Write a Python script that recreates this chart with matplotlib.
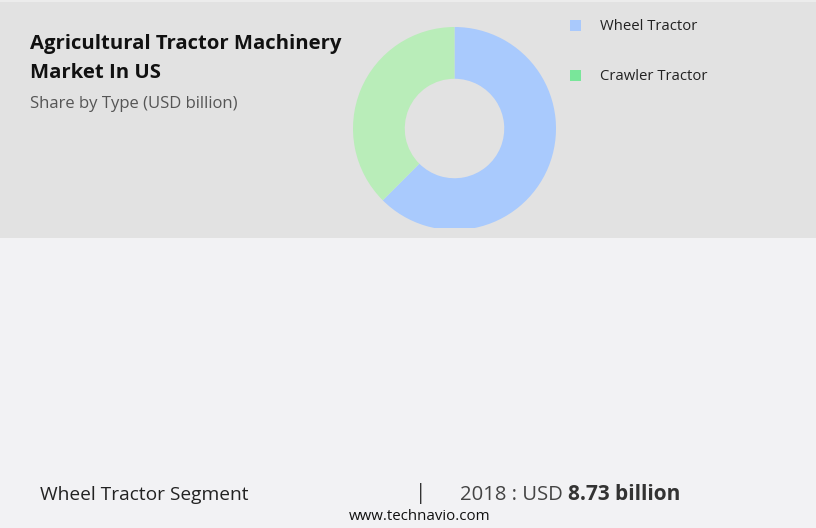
import matplotlib
matplotlib.use("Agg")
import matplotlib.pyplot as plt
from matplotlib.patches import Rectangle

types = ["Wheel Tractor", "Crawler Tractor"]
values = [8.73, 5.24]  # USD billion, read from donut share (~62.5% / 37.5%)
wedge_colors = ["#a9cafd", "#b9edb9"]
legend_colors = ["#a9c9fc", "#79e69a"]
title_lines = ["Agricultural Tractor Machinery", "Market In US"]
subtitle = "Share by Type (USD billion)"
segment = "Wheel Tractor Segment"
year = "2018"
seg_value = "8.73 billion"

W, H = 816, 528
plt.rcParams['font.family'] = ['Open Sans', 'DejaVu Sans']

fig = plt.figure(figsize=(W / 100, H / 100), dpi=100)
fig.patch.set_facecolor("#f2f2f4")

# grey upper band
fig.patches.append(Rectangle((0, 1 - 238 / H), 1, 238 / H, transform=fig.transFigure,
                             facecolor="#e2e2e2", edgecolor="none", zorder=-2))
fig.patches.append(Rectangle((0, 1 - 2 / H), 1, 2 / H, transform=fig.transFigure,
                             facecolor="#ececec", edgecolor="none", zorder=-1))

# donut, clipped at the bottom of the band
cx, cy, r = 454.5, 128.5, 101.5
bottom = 228
ax = fig.add_axes([(cx - r) / W, 1 - bottom / H, 2 * r / W, (bottom - (cy - r)) / H])
wedges, _ = ax.pie(values, colors=wedge_colors, startangle=90, counterclock=False,
                   wedgeprops=dict(width=0.51, edgecolor="none"))
ax.set_aspect('auto')
ax.set_xlim(-1, 1)
ax.set_ylim(-(bottom - cy) / r, 1)
ax.axis('off')
ax.set_zorder(5)
for w in wedges:
    w.set_clip_on(True)
    w.set_clip_box(ax.bbox)

# title block
for i, line in enumerate(title_lines):
    fig.text(30 / W, 1 - (44.5 + 29 * i) / H, line, fontsize=14.6, fontweight='bold',
             color="#111111", va='center', ha='left')
fig.text(30 / W, 1 - 104 / H, subtitle, fontsize=12, color="#555555", va='center', ha='left')

# legend
for i, (name, col) in enumerate(zip(types, legend_colors)):
    y = 25.5 + 50 * i
    fig.patches.append(Rectangle((570 / W, 1 - (y + 5.5) / H), 11 / W, 11 / H,
                                 transform=fig.transFigure, facecolor=col, edgecolor="none"))
    fig.text(600 / W, 1 - (y + 0.5) / H, name, fontsize=10.7, color="#222222",
             va='center', ha='left')

# footer
fy = 495
fig.text(40 / W, 1 - fy / H, segment, fontsize=13.8, color="#222222", va='center', ha='left')
fig.text(421 / W, 1 - (fy - 1) / H, "|", fontsize=15, color="#333333", va='center', ha='center')
t = fig.text(460 / W, 1 - fy / H, f"{year} : USD ", fontsize=14.6, color="#444444",
             va='center', ha='left')
fig.canvas.draw()
bb = t.get_window_extent()
fig.text(bb.x1 / W, 1 - fy / H, seg_value, fontsize=15, fontweight='bold', color="#333333",
         va='center', ha='left')
fig.text(420 / W, 1 - 517 / H, "www.technavio.com", fontsize=10.8, color="#111111",
         va='center', ha='center')

fig.savefig("out.png", dpi=100, facecolor=fig.get_facecolor())
